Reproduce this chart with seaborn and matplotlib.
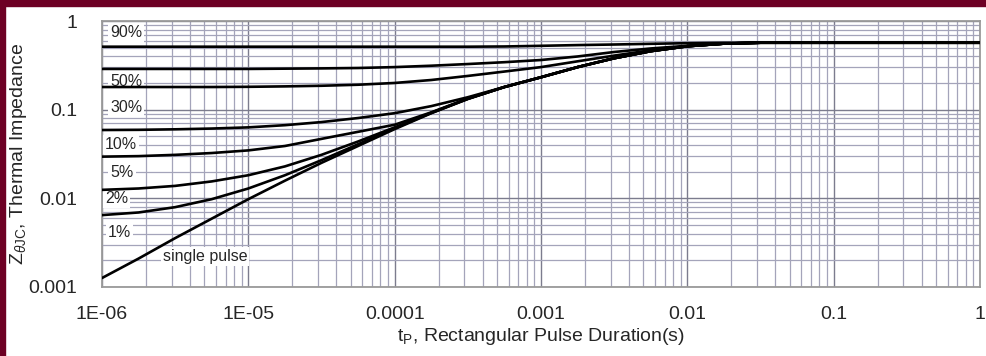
import numpy as np
import pandas as pd
import matplotlib
matplotlib.use("Agg")
import matplotlib.pyplot as plt
import seaborn as sns
from matplotlib.patches import Rectangle

# ==========================================
# DATA (quarter-decade steps)
# ==========================================
pulse_t = [1e-6, 1.78e-6, 3.16e-6, 5.62e-6,
           1e-5, 1.78e-5, 3.16e-5, 5.62e-5,
           1e-4, 1.78e-4, 3.16e-4, 5.62e-4,
           1e-3, 1.78e-3, 3.16e-3, 5.62e-3,
           1e-2, 1.78e-2, 3.16e-2, 1e-1, 1]

z_90 = [0.513, 0.513, 0.513, 0.513, 0.513, 0.513, 0.513, 0.513, 0.513, 0.513, 0.513,
        0.516, 0.525, 0.535, 0.543, 0.553, 0.562, 0.568, 0.569, 0.569, 0.569]
z_50 = [0.288, 0.288, 0.288, 0.288, 0.288, 0.290, 0.292, 0.295, 0.302, 0.313, 0.327,
        0.343, 0.363, 0.398, 0.447, 0.490, 0.525, 0.556, 0.569, 0.569, 0.569]
z_30 = [0.180, 0.180, 0.180, 0.180, 0.181, 0.183, 0.186, 0.191, 0.200, 0.216, 0.240,
        0.269, 0.302, 0.351, 0.407, 0.468, 0.521, 0.556, 0.569, 0.569, 0.569]
z_10 = [0.0589, 0.0592, 0.0600, 0.0612, 0.0631, 0.0668, 0.0724, 0.0804, 0.0912, 0.1096, 0.138,
        0.180, 0.232, 0.302, 0.380, 0.457, 0.519, 0.556, 0.569, 0.569, 0.569]
z_5 = [0.0295, 0.0299, 0.0309, 0.0324, 0.0347, 0.0389, 0.0468, 0.0562, 0.0676, 0.0933, 0.1334,
       0.180, 0.232, 0.302, 0.380, 0.457, 0.519, 0.556, 0.569, 0.569, 0.569]
z_2 = [0.01245, 0.0129, 0.0138, 0.0155, 0.0182, 0.0229, 0.0309, 0.0437, 0.0631, 0.0923, 0.1327,
       0.180, 0.232, 0.302, 0.380, 0.457, 0.519, 0.556, 0.569, 0.569, 0.569]
z_1 = [0.00646, 0.00692, 0.00794, 0.00977, 0.0129, 0.0182, 0.0269, 0.0407, 0.0617, 0.0918, 0.1324,
       0.180, 0.232, 0.302, 0.380, 0.457, 0.519, 0.556, 0.569, 0.569, 0.569]
z_single = [0.00126, 0.00209, 0.00355, 0.00589, 0.00977, 0.0158, 0.0251, 0.0389, 0.0603, 0.0912, 0.1318,
            0.180, 0.232, 0.302, 0.380, 0.457, 0.519, 0.556, 0.569, 0.569, 0.569]

curve_names = ["90%", "50%", "30%", "10%", "5%", "2%", "1%", "single pulse"]
curve_values = [z_90, z_50, z_30, z_10, z_5, z_2, z_1, z_single]

x_ticks = [1e-6, 1e-5, 1e-4, 1e-3, 1e-2, 1e-1, 1]
x_ticklabels = ["1E-06", "1E-05", "0.0001", "0.001", "0.01", "0.1", "1"]
y_ticks = [0.001, 0.01, 0.1, 1]
y_ticklabels = ["0.001", "0.01", "0.1", "1"]

# label anchor points (left edge of text, vertical centre)
label_pos = [(1.14e-6, 0.733), (1.14e-6, 0.210), (1.14e-6, 0.107),
             (1.05e-6, 0.040), (1.14e-6, 0.0195), (1.05e-6, 0.0100),
             (1.10e-6, 0.0041), (2.6e-6, 0.00219)]

df = pd.concat(
    [pd.DataFrame({"t": pulse_t, "z": v, "curve": n}) for n, v in zip(curve_names, curve_values)],
    ignore_index=True,
)

# ==========================================
# STYLE
# ==========================================
sns.set_style("white")
plt.rcParams["font.family"] = ["Liberation Sans", "DejaVu Sans"]
plt.rcParams["mathtext.fontset"] = "custom"
plt.rcParams["mathtext.rm"] = "Liberation Sans"
plt.rcParams["mathtext.it"] = "Liberation Sans:italic"

fig = plt.figure(figsize=(9.87, 3.56), dpi=100)
ax = fig.add_axes([0.1033, 0.194, 0.8896, 0.747])

sns.lineplot(
    data=df, x="t", y="z", hue="curve", palette={n: "black" for n in curve_names},
    linewidth=1.9, legend=False, ax=ax, zorder=3,
)

ax.set_xscale("log")
ax.set_yscale("log")
ax.set_xlim(1e-6, 1)
ax.set_ylim(0.001, 1)

ax.set_xticks(x_ticks)
ax.set_xticklabels(x_ticklabels)
ax.set_yticks(y_ticks)
ax.set_yticklabels(y_ticklabels)
ax.tick_params(axis="both", which="both", length=0, labelsize=14)
ax.tick_params(axis="x", pad=14)
ax.tick_params(axis="y", pad=18)

ax.grid(which="major", color="#7c7c8e", linewidth=1.0, zorder=1)
ax.grid(which="minor", color="#a4a4ba", linewidth=0.9, zorder=1)
ax.set_axisbelow(True)
for s in ax.spines.values():
    s.set_color("#9a9a9a")
    s.set_linewidth(1.3)

ax.set_xlabel("t$_{\\mathrm{P}}$, Rectangular Pulse Duration(s)", fontsize=14, labelpad=2)
ax.set_ylabel("Z$_{\\theta\\mathrm{JC}}$, Thermal Impedance", fontsize=14, labelpad=4)
ax.yaxis.set_label_coords(-0.083, 0.5)

# labels sit over the grid but under the curves
for name, (lx, ly) in zip(curve_names, label_pos):
    ax.text(lx, ly, name, fontsize=11.5, ha="left", va="center", zorder=2.5,
            bbox=dict(facecolor="white", edgecolor="none", pad=1.5))

# maroon frame strips (top and left)
fig.patches.append(Rectangle((0, 1 - 6 / 356), 1, 6 / 356, transform=fig.transFigure,
                             color="#6d0024", zorder=10))
fig.patches.append(Rectangle((0, 0), 5 / 987, 1, transform=fig.transFigure,
                             color="#6d0024", zorder=10))

fig.savefig("out.png", dpi=100)
